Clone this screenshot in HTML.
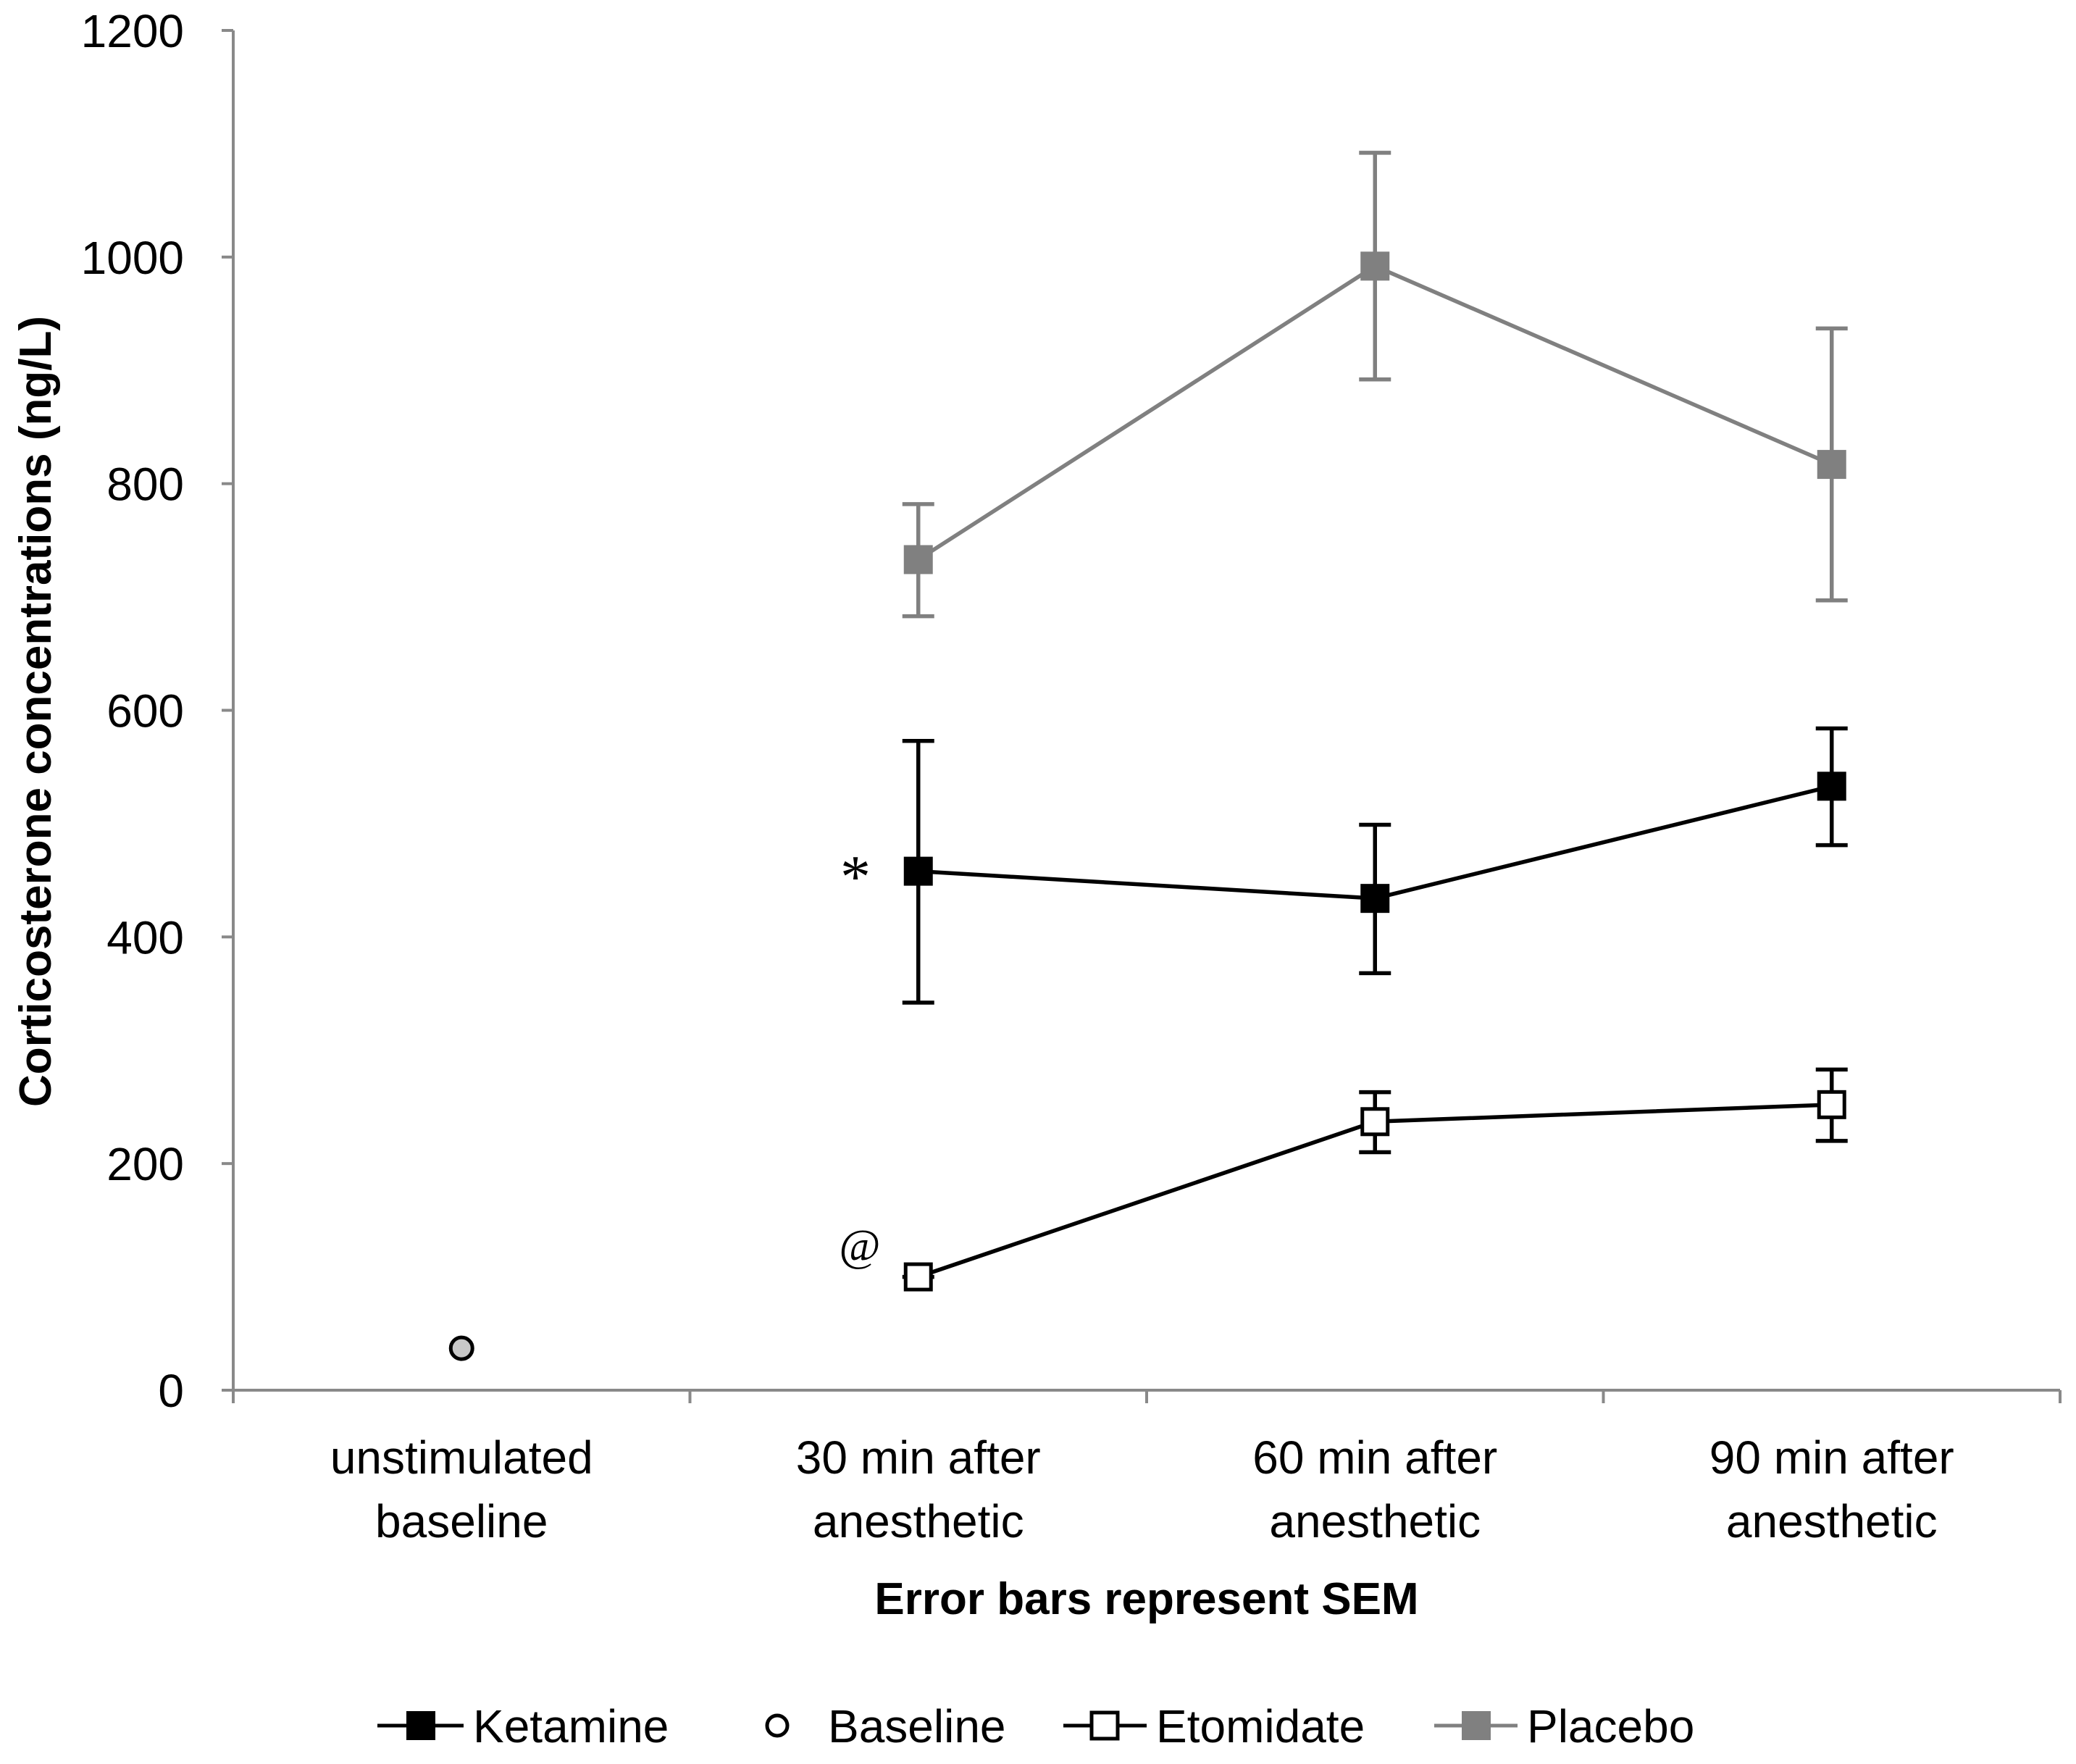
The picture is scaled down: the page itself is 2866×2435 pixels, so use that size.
<!DOCTYPE html>
<html><head><meta charset="utf-8">
<style>
html,body{margin:0;padding:0;background:#fff;}
svg{display:block;}
text{font-family:"Liberation Sans",sans-serif;fill:#000;}
</style></head>
<body>
<svg id="chart" width="2866" height="2435" viewBox="0 0 2866 2435" xmlns="http://www.w3.org/2000/svg">
<g id="axes"></g>
<g id="series"></g>
<text x="0" y="0" transform="translate(70,982) rotate(-90)" text-anchor="middle" font-size="62" font-weight="bold">Corticosterone concentrations (ng/L)</text>
<text x="1583" y="2228" text-anchor="middle" font-size="62" font-weight="bold">Error bars represent SEM</text>
<text x="1181" y="1238" text-anchor="middle" font-size="84" style="font-family:'Liberation Serif',serif">*</text>
<text x="1187" y="1740" text-anchor="middle" font-size="62" style="font-family:'Liberation Serif',serif">@</text>
<g id="legend">
  <g>
    <line x1="521" y1="2382" x2="640" y2="2382" stroke="#000" stroke-width="5"/>
    <rect x="561" y="2362" width="40" height="40" fill="#000"/>
    <text x="653" y="2405" font-size="64">Ketamine</text>
  </g>
  <g>
    <circle cx="1073" cy="2382" r="14" fill="#fff" stroke="#000" stroke-width="5"/>
    <text x="1143" y="2405" font-size="64">Baseline</text>
  </g>
  <g>
    <line x1="1468" y1="2382" x2="1583" y2="2382" stroke="#000" stroke-width="5"/>
    <rect x="1507" y="2364" width="36" height="36" fill="#fff" stroke="#000" stroke-width="5"/>
    <text x="1596" y="2405" font-size="64">Etomidate</text>
  </g>
  <g>
    <line x1="1980" y1="2382" x2="2095" y2="2382" stroke="#808080" stroke-width="5"/>
    <rect x="2018" y="2362" width="40" height="40" fill="#808080"/>
    <text x="2108" y="2405" font-size="64">Placebo</text>
  </g>
</g>
</svg>
<script>
const categories = [["unstimulated","baseline"],["30 min after","anesthetic"],["60 min after","anesthetic"],["90 min after","anesthetic"]];
const yTicks = [0,200,400,600,800,1000,1200];
const baselineValue = [37];
const ketamineValues = [458,434,533];
const ketamineUpper = [573,499,584];
const ketamineLower = [342,368,481];
const etomidateValues = [100,237,252];
const etomidateUpper = [100,263,283];
const etomidateLower = [100,210,220];
const placeboValues = [733,992,817];
const placeboUpper = [782,1092,937];
const placeboLower = [683,892,697];

const NS = "http://www.w3.org/2000/svg";
const X0 = 322, X1 = 2844, Y0 = 1919, Y1 = 42, YMAX = 1200;
const catW = (X1 - X0) / categories.length;
function xScale(i){ return X0 + catW * (i + 0.5); }
function yScale(v){ return Y0 - (v / YMAX) * (Y0 - Y1); }
function mk(tag, attrs, parent){
  const e = document.createElementNS(NS, tag);
  for (const k in attrs) e.setAttribute(k, attrs[k]);
  parent.appendChild(e);
  return e;
}
const axes = document.getElementById('axes');
const series = document.getElementById('series');
const AX = "#898989";

let yl = mk('line',{x1:X0,y1:Y1,x2:X0,y2:Y0,stroke:AX,'stroke-width':4},axes);


let xl = mk('line',{x1:X0-16,y1:Y0,x2:X1,y2:Y0,stroke:AX,'stroke-width':4},axes);



yTicks.forEach(t=>{
  const y = yScale(t);
  const tk = mk('line',{x1:X0-16,y1:y,x2:X0,y2:y,stroke:AX,'stroke-width':4},axes);
  
  
  const tx = mk('text',{x:X0-68,y:y+23,'text-anchor':'end','font-size':64},axes);
  tx.textContent = String(t);
  
  
});
for (let i=0;i<=categories.length;i++){
  const x = X0 + catW*i;
  const tk = mk('line',{x1:x,y1:Y0,x2:x,y2:Y0+18,stroke:AX,'stroke-width':4},axes);
  
  
}
categories.forEach((c,i)=>{
  c.forEach((line,j)=>{
    const tx = mk('text',{x:xScale(i),y:2034+j*88,'text-anchor':'middle','font-size':64},axes);
    tx.textContent = line;
    
    
  });
});

function drawSeries(name, vals, up, lo, color, fill, offset){
  const g = mk('g',{},series);
  
  
  const pts = vals.map((v,i)=>[xScale(i+offset), yScale(v)]);
  const pl = mk('polyline',{points:pts.map(p=>p.join(',')).join(' '),fill:'none',stroke:color,'stroke-width':5.5},g);
  
  
  vals.forEach((v,i)=>{
    const x = xScale(i+offset);
    const eb = mk('path',{d:`M${x},${yScale(up[i])}V${yScale(lo[i])}M${x-22},${yScale(up[i])}H${x+22}M${x-22},${yScale(lo[i])}H${x+22}`,stroke:color,'stroke-width':5.5,fill:'none'},g);
    
    
  });
  vals.forEach((v,i)=>{
    const x = xScale(i+offset), y = yScale(v);
    const s = fill==='#fff' ? 35 : 40;
    const r = mk('rect',{x:x-s/2,y:y-s/2,width:s,height:s,fill:fill,stroke:fill==='#fff'?color:'none','stroke-width':5},g);
    
    
  });
}
drawSeries('placebo', placeboValues, placeboUpper, placeboLower, '#808080', '#808080', 1);
drawSeries('ketamine', ketamineValues, ketamineUpper, ketamineLower, '#000', '#000', 1);
drawSeries('etomidate', etomidateValues, etomidateUpper, etomidateLower, '#000', '#fff', 1);

baselineValue.forEach((v,i)=>{
  const c = mk('circle',{cx:xScale(i),cy:yScale(v),r:15,fill:'#c8c8c8',stroke:'#000','stroke-width':5},series);
  
  
});
</script>
</body></html>
